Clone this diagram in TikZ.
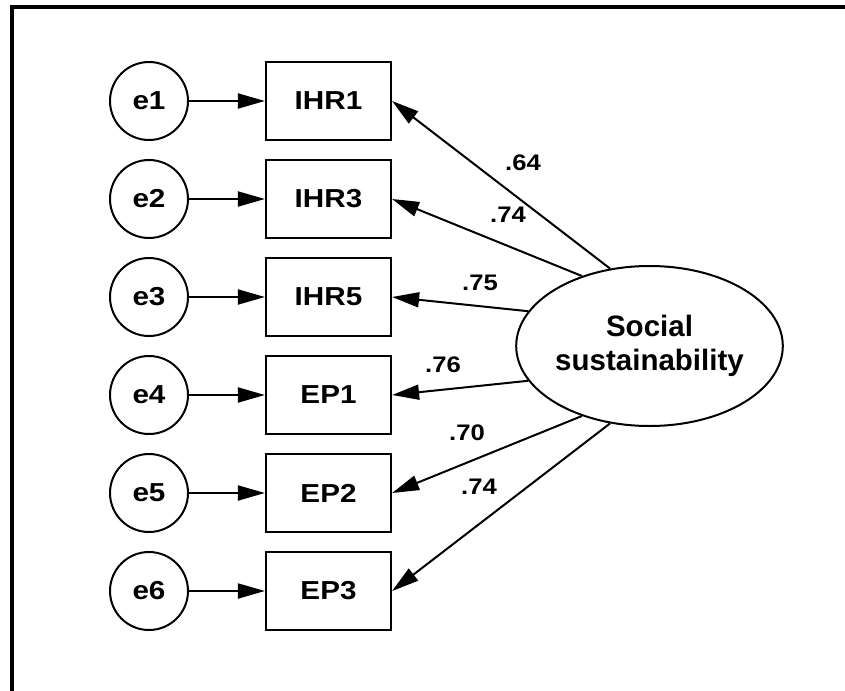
\documentclass[tikz,border=0pt]{standalone}
\usepackage{fontspec}
\setmainfont{Liberation Sans}
\newfontfamily\labfont{Liberation Sans}[FakeStretch=1.14]
\usetikzlibrary{arrows.meta,shapes.geometric}
\begin{document}
\begin{tikzpicture}[x=1pt,y=-1pt,
  errnode/.style={circle,draw,line width=2pt,minimum size=78pt,inner sep=0pt,
    font=\labfont\bfseries\fontsize{26}{28}\selectfont},
  obsnode/.style={rectangle,draw,line width=2.2pt,minimum width=125pt,minimum height=78pt,inner sep=0pt,
    font=\labfont\bfseries\fontsize{26}{28}\selectfont},
  latnode/.style={ellipse,draw,line width=2pt,minimum width=253pt,minimum height=160pt,inner sep=0pt,
    align=center,font=\bfseries\fontsize{29.5}{34}\selectfont},
  wlab/.style={font=\labfont\bfseries\fontsize{22.5}{24}\selectfont,inner sep=0pt},
  conn/.style={line width=2pt,-{Triangle[length=27pt,width=15pt]}}
]
\useasboundingbox (0,0) rectangle (845,690);
\draw[line width=3.2pt] (12,692) -- (12,7) -- (847,7);

\node[latnode] (S) at (649.5,346) {Social\\sustainability};

\foreach \i/\lab/\y in {1/IHR1/101,2/IHR3/199,3/IHR5/297,4/EP1/395,5/EP2/493,6/EP3/591}{
  \node[errnode] (e\i) at (149,\y) {e\i};
  \node[obsnode] (o\i) at (328.5,\y) {\lab};
  \draw[conn] (e\i) -- (o\i);
}

\draw[conn] (S.117) -- (o1.east);
\draw[conn] (S.134) -- (o2.east);
\draw[conn] (S.164) -- (o3.east);
\draw[conn] (S.196) -- (o4.east);
\draw[conn] (S.226) -- (o5.east);
\draw[conn] (S.243) -- (o6.east);

\node[wlab] (w1) at (523,163) {.64};
\node[wlab] (w2) at (508,215) {.74};
\node[wlab] (w3) at (480,283) {.75};
\node[wlab] (w4) at (443,365) {.76};
\node[wlab] (w5) at (467,433) {.70};
\node[wlab] (w6) at (479,487) {.74};
\end{tikzpicture}
\end{document}
